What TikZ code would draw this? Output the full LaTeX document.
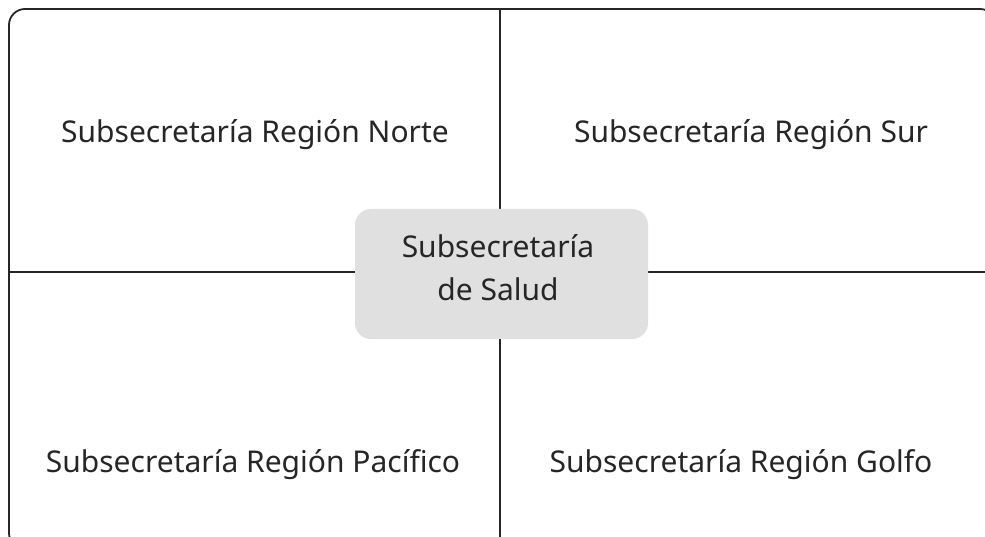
\documentclass[tikz,border=0pt]{standalone}
\usepackage{fontspec}
\setmainfont{Noto Sans}
\begin{document}
\begin{tikzpicture}[x=1pt,y=1pt,
  frameline/.style={line width=1.8pt,color=black!85},
  divline/.style={line width=1.4pt,color=black!85},
  region/.style={font=\fontsize{30}{36}\selectfont,text=black!85,inner sep=0pt},
  center/.style={fill=black!12,rounded corners=16pt,minimum width=293pt,minimum height=130pt,
     align=center,font=\fontsize{30}{43}\selectfont,text=black!85,inner sep=0pt}]
\useasboundingbox (0,0) rectangle (985,537);
\clip (0,0) rectangle (985,537);
\fill[white] (0,0) rectangle (985,537);
% frame corners (frame extends beyond the right and bottom edges)
\coordinate (tl) at (9,528);
\coordinate (br) at (996,-12);
\coordinate (top) at (500,528);
\coordinate (bot) at (500,-12);
\coordinate (left) at (9,265);
\coordinate (right) at (996,265);
\draw[divline] (top) -- (bot);
\draw[divline] (left) -- (right);
\draw[frameline,rounded corners=16pt] (tl) rectangle (br);
\node[center] (hub) at (501.5,263) {};
\node[align=center,font=\fontsize{30}{43}\selectfont,text=black!85,inner sep=0pt] (hubtext) at (498,269) {Subsecretaría\\de Salud};
\node[region] (norte) at (255,402) {Subsecretaría Región Norte};
\node[region] (sur) at (751,402) {Subsecretaría Región Sur};
\node[region] (pacifico) at (253,72) {Subsecretaría Región Pacífico};
\node[region] (golfo) at (741,72) {Subsecretaría Región Golfo};
\end{tikzpicture}
\end{document}
